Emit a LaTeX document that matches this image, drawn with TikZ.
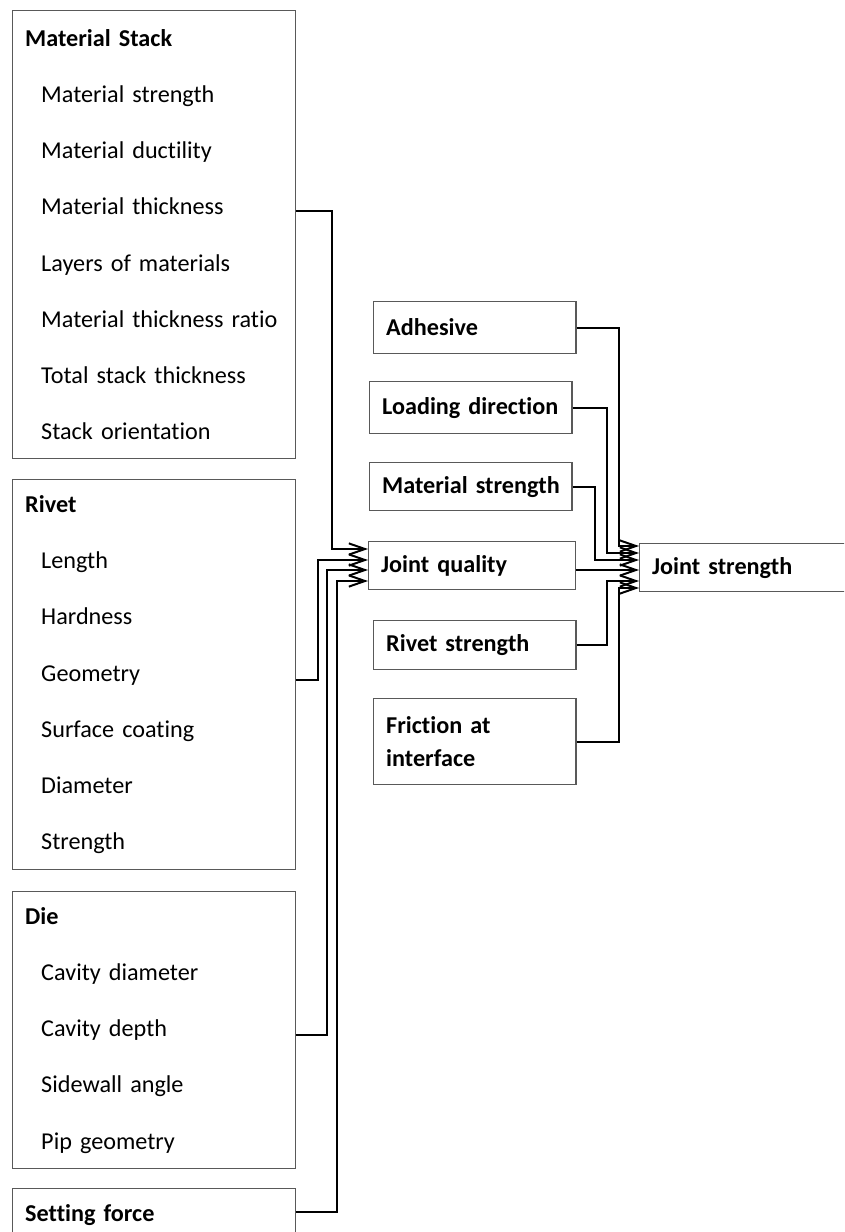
\documentclass[tikz,border=0pt]{standalone}
\usepackage{fontspec}
\setmainfont{Carlito}[Ligatures=NoCommon]
\usetikzlibrary{arrows.meta,positioning}
\newcommand{\subpad}{\hspace*{11.4pt}}

\begin{document}
\begin{tikzpicture}[x=0.025cm,y=-0.025cm,
  every node/.style={font=\fontsize{17.2}{40}\selectfont,align=left},
  groupbox/.style={draw=black!65,line width=0.8pt,anchor=north west,inner xsep=9pt,text width=183pt},
  factor/.style={draw=black!65,line width=0.8pt,anchor=north west,inner xsep=9pt,minimum height=1.3cm,text width=126pt,font=\fontsize{17.2}{24}\selectfont\bfseries},
  feed/.style={line width=1.4pt,-{Straight Barb[length=11.5pt,width=8pt]}}]
  \clip (0,0) rectangle (844,1232);
  % input groups
  \node[groupbox,minimum height=11.2cm] (stack) at (12,10) {
    \textbf{Material Stack}\\
    \subpad Material strength\\
    \subpad Material ductility\\
    \subpad Material thickness\\
    \subpad Layers of materials\\
    \subpad Material~thickness~ratio\\
    \subpad Total stack thickness\\
    \subpad Stack orientation
  };
  \node[groupbox,minimum height=9.75cm] (rivet) at (12,479) {
    \textbf{Rivet}\\
    \subpad Length\\
    \subpad Hardness\\
    \subpad Geometry\\
    \subpad Surface coating\\
    \subpad Diameter\\
    \subpad Strength
  };
  \node[groupbox,minimum height=6.925cm] (die) at (12,891) {
    \textbf{Die}\\
    \subpad Cavity diameter\\
    \subpad Cavity depth\\
    \subpad Sidewall angle\\
    \subpad Pip geometry
  };
  \node[groupbox,minimum height=1.3cm,font=\fontsize{17.2}{24}\selectfont\bfseries] (force) at (12,1188) {Setting force};
  % factors
  \node[factor] (adhesive) at (373,301) {Adhesive};
  \node[factor] (loading) at (369,381) {Loading~direction};
  \node[factor,minimum height=1.2cm] (matstr) at (369,462) {Material~strength};
  \node[factor,minimum height=1.2cm,text width=129pt] (jq) at (368,541) {Joint quality};
  \node[factor,minimum height=1.225cm] (rivstr) at (373,620) {Rivet strength};
  \node[factor,minimum height=2.15cm] (friction) at (373,698) {Friction at\\interface};
  \node[factor,minimum height=1.2cm,text width=200pt] (strength) at (639,543) {Joint strength};
  % into joint quality
  \draw[feed] (stack.east |- 0,211) -| (332,549) -- (jq.west |- 0,549);
  \draw[feed] (rivet.east |- 0,680) -| (318,560) -- (jq.west |- 0,560);
  \draw[feed] (die.east |- 0,1035) -| (327,570) -- (jq.west |- 0,570);
  \draw[feed] (force.east |- 0,1212) -| (337,581) -- (jq.west |- 0,581);
  % into joint strength
  \draw[feed] (adhesive.east) -| (619,546) -- (strength.west |- 0,546);
  \draw[feed] (loading.east) -| (607,553) -- (strength.west |- 0,553);
  \draw[feed] (matstr.east) -| (595,560) -- (strength.west |- 0,560);
  \draw[feed] (jq.east |- 0,570) -- (strength.west |- 0,570);
  \draw[feed] (rivstr.east) -| (607,581) -- (strength.west |- 0,581);
  \draw[feed] (friction.east) -| (619,588) -- (strength.west |- 0,588);
\end{tikzpicture}
\end{document}
